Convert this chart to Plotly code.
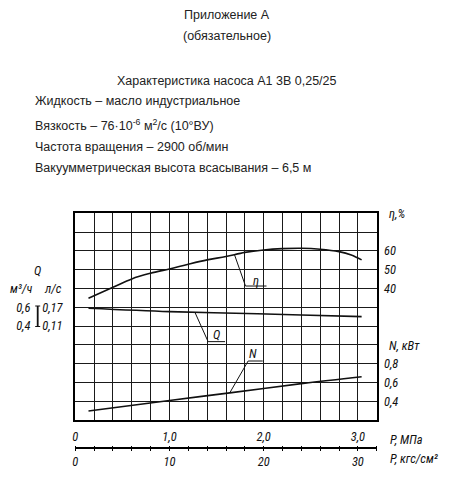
import numpy as np
import plotly.graph_objects as go

# ---------------- data ----------------
P_eta = [0.14, 0.4, 0.6, 0.8, 1.0, 1.2, 1.4, 1.6, 1.8, 2.0, 2.2, 2.4, 2.6, 2.8, 2.93, 3.04]
eta = [34.8, 40.6, 45.1, 48.1, 50.4, 52.9, 55.2, 57.0, 59.2, 60.5, 61.2, 61.4, 60.9, 59.6, 57.8, 55.2]

P_Q = [0.14, 1.0, 1.7, 2.4, 3.04]
Q = [0.589, 0.553, 0.536, 0.518, 0.500]

P_N = [0.14, 1.0, 1.64, 2.42, 3.04]
N = [0.296, 0.408, 0.489, 0.590, 0.661]

eta_ticks = [40, 50, 60]
eta_ticklabels = ["40", "50", "60"]
N_ticks = [0.4, 0.6, 0.8]
N_ticklabels = ["0,4", "0,6", "0,8"]
Q_ticks = [0.4, 0.6]
Q_m3h_labels = ["0,4", "0,6"]
Q_ls_labels = ["0,11", "0,17"]

P_minor = [round(0.2 * i, 1) for i in range(17)]
P_major = [0, 1, 2, 3]
P_labels = ["0", "1,0", "2,0", "3,0"]
K_minor = [2 * i for i in range(17)]
K_major = [0, 10, 20, 30]
K_labels = ["0", "10", "20", "30"]

header_center = ["Приложение А", "(обязательное)", "Характеристика насоса А1 3В 0,25/25"]
header_left = ["Жидкость – масло индустриальное",
               "Вязкость – 76·10<sup>-6</sup> м<sup>2</sup>/с (10°ВУ)",
               "Частота вращения – 2900 об/мин",
               "Вакуумметрическая высота всасывания – 6,5 м"]

# ---------------- layout geometry ----------------
W, H = 460, 480
x0px, x1px = 75.3, 376.7
ytop, ybot = 213.3, 420.0
P_range = [0, 3.2]
eta_range = [-30, 80]
N_range = [0.2, 2.4]
Q_range = [-0.6, 1.6]

def px(x):
    return x / W

def py(y):
    return 1 - y / H

xdom = [px(x0px), px(x1px)]
ydom = [py(ybot), py(ytop)]

GOST = "Liberation Sans Narrow, Roboto Condensed, DejaVu Sans Condensed, Liberation Sans, Arial"
SANS = "Liberation Sans, Arial, Helvetica"
ital = dict(family=GOST, size=12.5, color="#111", style="italic")

fig = go.Figure()

line_style = dict(color="#111", width=1.6)
fig.add_trace(go.Scatter(x=P_eta, y=eta, mode="lines", line=dict(shape="spline", smoothing=1.0, **line_style),
                         xaxis="x", yaxis="y", hoverinfo="skip", showlegend=False))
fig.add_trace(go.Scatter(x=P_Q, y=Q, mode="lines", line=dict(shape="spline", **line_style),
                         xaxis="x", yaxis="y4", hoverinfo="skip", showlegend=False))
fig.add_trace(go.Scatter(x=P_N, y=N, mode="lines", line=dict(shape="spline", **line_style),
                         xaxis="x", yaxis="y3", hoverinfo="skip", showlegend=False))
# helper invisible traces so every axis gets drawn
for xa, ya in [("x", "y2"), ("x", "y5"), ("x2", "y"), ("x3", "y")]:
    fig.add_trace(go.Scatter(x=[None], y=[None], xaxis=xa, yaxis=ya, showlegend=False, hoverinfo="skip"))

grid_col = "#1a1a1a"
common = dict(automargin=False, fixedrange=True)
tick_minor = dict(ticks="outside", ticklen=2, tickwidth=1, tickcolor="#000", showgrid=False)
fig.update_layout(
    width=W, height=H, margin=dict(l=0, r=0, t=0, b=0, pad=0), autosize=False,
    paper_bgcolor="white", plot_bgcolor="white", showlegend=False,
    xaxis=dict(domain=xdom, range=P_range, tick0=0, dtick=0.2, showgrid=True, gridcolor=grid_col,
               gridwidth=1, showticklabels=False, ticks="", showline=True, mirror=True,
               linecolor="#000", linewidth=2, zeroline=False, anchor="y", **common),
    yaxis=dict(domain=ydom, range=eta_range, tick0=0, dtick=10, showgrid=True, gridcolor=grid_col,
               gridwidth=1, showticklabels=False, ticks="", showline=True, mirror=True,
               linecolor="#000", linewidth=2, zeroline=False, anchor="x", **common),
    yaxis2=dict(overlaying="y", range=eta_range, side="right", anchor="free", position=px(383),
                tickmode="array", tickvals=eta_ticks, ticktext=eta_ticklabels, showgrid=False,
                showline=False, zeroline=False, ticks="", tickfont=ital, **common),
    yaxis3=dict(overlaying="y", range=N_range, side="right", anchor="free", position=px(383),
                tickmode="array", tickvals=N_ticks, ticktext=N_ticklabels, showgrid=False,
                showline=False, zeroline=False, ticks="", tickfont=ital, **common),
    yaxis4=dict(overlaying="y", range=Q_range, side="left", anchor="free", position=px(30.5),
                tickmode="array", tickvals=Q_ticks, ticktext=Q_m3h_labels, showgrid=False,
                showline=False, zeroline=False, ticks="", tickfont=ital, **common),
    yaxis5=dict(overlaying="y", range=Q_range, side="left", anchor="free", position=px(62.5),
                tickmode="array", tickvals=Q_ticks, ticktext=Q_ls_labels, showgrid=False,
                showline=False, zeroline=False, ticks="", tickfont=ital, **common),
    xaxis2=dict(overlaying="x", range=P_range, side="top", anchor="free", position=py(448.3),
                tickmode="array", tickvals=P_major, ticktext=P_labels,
                minor=dict(tickmode="array", tickvals=P_minor, **tick_minor),
                showgrid=False, showline=True, linecolor="#000", linewidth=1.5, zeroline=False,
                ticks="outside", ticklen=2, tickwidth=1, tickcolor="#000", tickfont=ital, **common),
    xaxis3=dict(overlaying="x", range=[0, 32], side="bottom", anchor="free", position=py(448.3),
                tickmode="array", tickvals=K_major, ticktext=K_labels,
                minor=dict(tickmode="array", tickvals=K_minor, **tick_minor),
                showgrid=False, showline=False, zeroline=False,
                ticks="outside", ticklen=2, tickwidth=1, tickcolor="#000", tickfont=ital, **common),
)

ann = []
hfont = dict(family=SANS, size=12.5, color="#222")
for txt, y in zip(header_center, [15, 36, 80.7]):
    ann.append(dict(text=txt, x=px(227), y=py(y), xref="paper", yref="paper", showarrow=False,
                    xanchor="center", yanchor="middle", font=hfont))
for txt, y in zip(header_left, [100.7, 125, 146.7, 168.3]):
    ann.append(dict(text=txt, x=px(33), y=py(y), xref="paper", yref="paper", showarrow=False,
                    xanchor="left", yanchor="middle", font=hfont))

axis_titles = [("η,%", 387, 213.3), ("N, кВт", 387, 345), ("P, МПа", 388, 439.5), ("P, кгс/см²", 388, 458.3)]
for txt, x, y in axis_titles:
    ann.append(dict(text=txt, x=px(x), y=py(y), xref="paper", yref="paper", showarrow=False,
                    xanchor="left", yanchor="middle", font=ital))
for txt, x, y in [("Q", 37, 270), ("м³/ч", 21, 288), ("л/с", 53, 288)]:
    ann.append(dict(text=txt, x=px(x), y=py(y), xref="paper", yref="paper", showarrow=False,
                    xanchor="center", yanchor="middle", font=ital))

shapes = []

# curve labels with leader lines (data coordinates)
def leader(P_curve, V_curve, p_start, p_knee, v_knee, p_end, yref, label, p_txt, v_txt):
    v_start = float(np.interp(p_start, P_curve, V_curve))
    path = f"M {p_start},{v_start} L {p_knee},{v_knee} L {p_end},{v_knee}"
    shapes.append(dict(type="path", path=path, xref="x", yref=yref,
                       line=dict(color="#111", width=1)))
    ann.append(dict(text=label, x=p_txt, y=v_txt, xref="x", yref=yref, showarrow=False,
                    xanchor="center", yanchor="middle", font=ital))

leader(P_eta, eta, 1.69, 1.807, 41.3, 2.03, "y", "η", 1.915, 44.0)
leader(P_Q, Q, 1.27, 1.41, 0.234, 1.59, "y4", "Q", 1.50, 0.31)
leader(P_N, N, 1.64, 1.835, 0.828, 1.99, "y3", "N", 1.89, 0.91)

# serif "I" bracket between the Q scales
bx, btop, bbot = 37.7, 306, 326.5
shapes.append(dict(type="line", xref="paper", yref="paper", x0=px(bx), x1=px(bx), y0=py(btop), y1=py(bbot),
                   line=dict(color="#111", width=1.8)))
for yy in (btop, bbot):
    shapes.append(dict(type="line", xref="paper", yref="paper", x0=px(bx - 2.5), x1=px(bx + 2.5),
                       y0=py(yy), y1=py(yy), line=dict(color="#111", width=1)))

fig.update_layout(annotations=ann, shapes=shapes)
fig.write_html("out.html", config={"displayModeBar": False},
               post_script="document.body.style.margin='0px';document.body.style.padding='0px';")
